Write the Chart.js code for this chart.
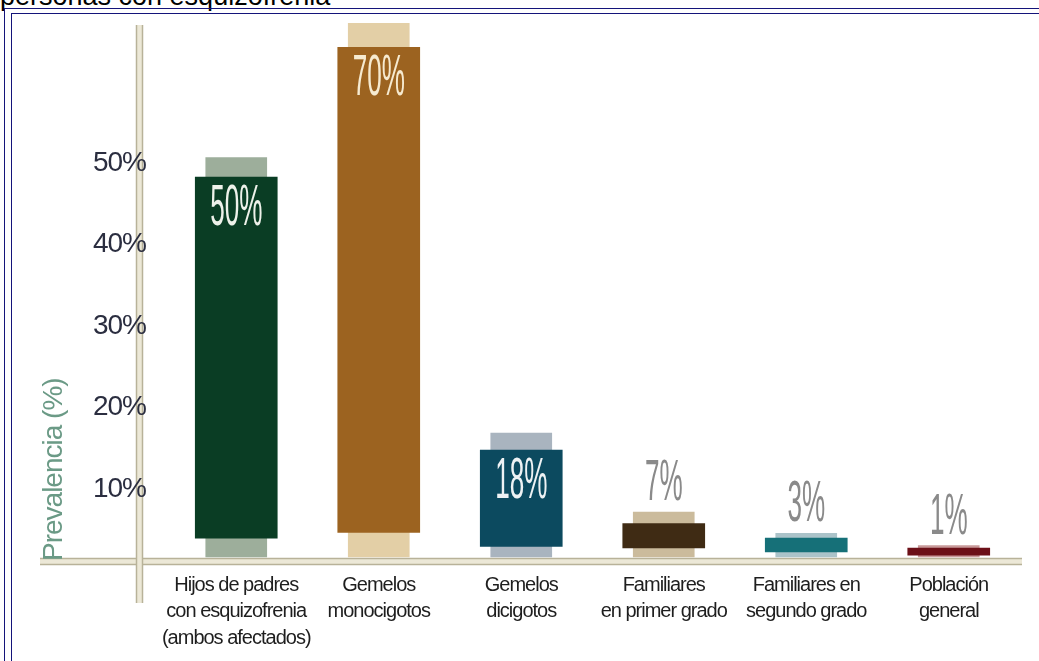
<!DOCTYPE html>
<html><head><meta charset="utf-8">
<script src="https://cdn.jsdelivr.net/npm/chart.js@4"></script>
<style>
html,body{margin:0;padding:0;background:#fff;overflow:hidden;}
#wrap{position:relative;width:1039px;height:661px;overflow:hidden;background:#fff;}
.frame{position:absolute;border-left:1px solid #14147a;border-top:1px solid #14147a;right:-10px;bottom:-10px;}
#f1{left:4px;top:8px;} #f2{left:11px;top:13px;}
#ttl{position:absolute;left:0;top:-17px;font:27px 'Liberation Sans',Arial,sans-serif;line-height:27px;color:#000;white-space:nowrap;}
canvas{position:absolute;left:0;top:0;}
</style></head>
<body><div id="wrap">
<div id="ttl">personas con esquizofrenia</div>
<div class="frame" id="f1"></div><div class="frame" id="f2"></div>
<canvas id="c" width="1039" height="661"></canvas>
</div>
<script>
// ---- data ----
const categories = [
  ["Hijos de padres", "con esquizofrenia", "(ambos afectados)"],
  ["Gemelos", "monocigotos"],
  ["Gemelos", "dicigotos"],
  ["Familiares", "en primer grado"],
  ["Familiares en", "segundo grado"],
  ["Población", "general"]
];
const values = [50, 70, 18, 7, 3, 1];          // printed prevalence (%)
const yTicks = [10, 20, 30, 40, 50];
// drawn extents of the bars as they appear against the axis (in %)
const bandTop    = [50.7, 70, 16.9, 7.2, 4.6, 3.1];
const bandBottom = [1.7, 1.7, 1.7, 1.7, 1.7, 1.7];
const barTop     = [48.3, 64.2, 14.8, 5.8, 4.0, 2.8];
const barBottom  = [4.0, 4.7, 3.0, 2.8, 2.3, 1.9];
const darkColors = ['#0a3d24', '#9c6320', '#0c4a5f', '#3f2b14', '#167078', '#6c1018'];
const bandColors = ['#9dae9b', '#e3cfa6', '#a9b4bf', '#cbbb9c', '#abc3c9', '#c99a9a'];
const labelColors = ['#eef2ea', '#f6ead0', '#eef2f4', '#8a8a8a', '#8a8a8a', '#8a8a8a'];

const FONT = "'Liberation Sans', Arial, sans-serif";

const tightText = {
  id: 'tightText',
  beforeUpdate(chart) { chart.ctx.letterSpacing = '-1px'; },
  beforeDraw(chart) { chart.ctx.letterSpacing = '-1px'; }
};

const axisLines = {
  id: 'axisLines',
  beforeDraw(chart) {
    const {ctx, chartArea: a} = chart;
    ctx.save();
    const yb = a.bottom;
    ctx.fillStyle = '#ece8d7';
    ctx.fillRect(a.left - 125, yb - 3, a.right + 2 - (a.left - 125), 7);
    ctx.strokeStyle = '#b8b299';
    ctx.lineWidth = 1.5;
    ctx.beginPath();
    ctx.moveTo(a.left - 125, yb - 2.5); ctx.lineTo(a.right + 2, yb - 2.5);
    ctx.moveTo(a.left - 125, yb + 3.5); ctx.lineTo(a.right + 2, yb + 3.5);
    ctx.stroke();
    const xl = a.left - 29;
    ctx.fillStyle = '#ece8d7';
    ctx.fillRect(xl, a.top + 2, 7, a.bottom + 42 - a.top - 2);
    ctx.beginPath();
    ctx.moveTo(xl + 0.5, a.top + 2); ctx.lineTo(xl + 0.5, a.bottom + 42);
    ctx.moveTo(xl + 6.5, a.top + 2); ctx.lineTo(xl + 6.5, a.bottom + 42);
    ctx.stroke();
    ctx.restore();
  }
};

const valueLabels = {
  id: 'valueLabels',
  afterDatasetsDraw(chart) {
    const {ctx} = chart;
    const x = chart.scales.x, y = chart.scales.y;
    ctx.save();
    ctx.letterSpacing = '0px';
    values.forEach((v, i) => {
      const cx = x.getPixelForValue(i);
      let cy;
      if (v >= 15) cy = y.getPixelForValue(barTop[i]) + 32;
      else cy = y.getPixelForValue(bandTop[i]) - 28;
      ctx.save();
      ctx.translate(cx, cy);
      ctx.scale(0.45, 1);
      ctx.font = "58px " + FONT;
      ctx.textAlign = 'center';
      ctx.textBaseline = 'middle';
      ctx.fillStyle = labelColors[i];
      ctx.fillText(v + '%', 0, 0);
      ctx.restore();
    });
    ctx.restore();
  }
};

new Chart(document.getElementById('c'), {
  type: 'bar',
  data: {
    labels: categories,
    datasets: [
      {
        label: 'Prevalencia',
        data: barBottom.map((b, i) => [b, barTop[i]]),
        backgroundColor: darkColors,
        borderWidth: 0,
        barThickness: 82,
        grouped: false,
        order: 0
      },
      {
        label: 'Fondo',
        data: bandBottom.map((b, i) => [b, bandTop[i]]),
        backgroundColor: bandColors,
        borderWidth: 0,
        barThickness: 61,
        grouped: false,
        order: 1
      }
    ]
  },
  options: {
    responsive: false,
    animation: false,
    devicePixelRatio: 1,
    layout: {padding: {left: 40, right: 19, top: 23, bottom: 0}},
    plugins: {legend: {display: false}, tooltip: {enabled: false}},
    scales: {
      x: {
        type: 'category',
        grid: {display: false, drawTicks: false},
        border: {display: false},
        ticks: {
          autoSkip: false, maxRotation: 0, minRotation: 0,
          color: '#1e1e1e', padding: 11,
          font: {family: FONT, size: 20, lineHeight: 1.33}
        },
        afterFit(s) { s.height = 100; s.paddingLeft = 0; s.paddingRight = 0; }
      },
      y: {
        min: 1.2, max: 67.2,
        grid: {display: false, drawTicks: false},
        border: {display: false},
        afterBuildTicks(s) { s.ticks = yTicks.map(v => ({value: v})); },
        ticks: {
          color: '#2b2e40', padding: 19,
          font: {family: FONT, size: 28},
          callback: v => v + '%'
        },
        title: {
          display: true, text: 'Prevalencia (%)', align: 'start',
          color: '#6b9a86', padding: {top: 0, bottom: 0},
          font: {family: FONT, size: 28, lineHeight: 1}
        },
        afterFit(s) { s.width = 125; s.paddingTop = 0; s.paddingBottom = 0; }
      }
    }
  },
  plugins: [tightText, axisLines, valueLabels]
});
</script>
</body></html>
